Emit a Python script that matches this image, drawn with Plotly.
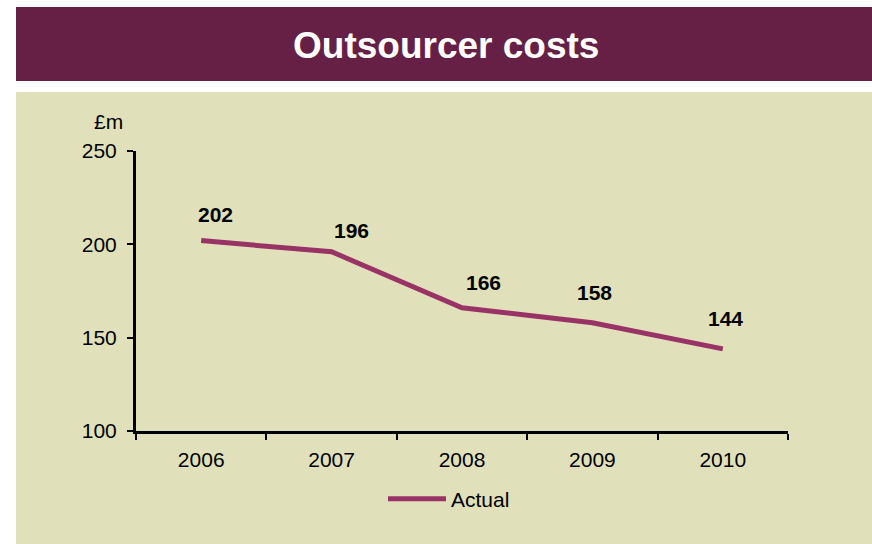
import plotly.graph_objects as go

# Outsourcer costs, £m
years = ["2006", "2007", "2008", "2009", "2010"]
actual = [202, 196, 166, 158, 144]
series_name = "Actual"
y_ticks = [100, 150, 200, 250]

# Pixel nudges for the value labels (dx, dy) relative to each point
label_offsets = [(14, 26), (20, 21), (21, 25), (2, 30), (3, 30)]

W, H = 872, 544
FONT = "Liberation Sans, Arial, sans-serif"
PLUM = "#993366"
BAND = "#662046"
PANEL = "#E0E1BA"
FS = 21

fig = go.Figure()
fig.add_trace(go.Scatter(
    x=years, y=actual, mode="lines", name=series_name,
    line=dict(color=PLUM, width=5),
    hoverinfo="x+y",
))

# value labels above each point (category axes take the category index)
for i, (v, (dx, dy)) in enumerate(zip(actual, label_offsets)):
    fig.add_annotation(
        x=i, y=v, xref="x", yref="y", text=f"<b>{v}</b>", showarrow=False,
        xanchor="center", yanchor="middle",
        xshift=dx, yshift=dy,
        font=dict(family=FONT, size=FS, color="#000000"),
    )

# unit label over the value axis
fig.add_annotation(
    xref="paper", yref="paper", x=108 / W, y=1 - 121 / H,
    xanchor="center", yanchor="middle",
    text="£m", showarrow=False,
    font=dict(family=FONT, size=FS, color="#000000"),
)

# title text inside the banner
fig.add_annotation(
    xref="paper", yref="paper", x=446 / W, y=1 - 45 / H,
    xanchor="center", yanchor="middle",
    text="<b>Outsourcer costs</b>", showarrow=False,
    font=dict(family=FONT, size=37, color="#FFFFFF"),
)

# banner and background panel
fig.add_shape(type="rect", xref="paper", yref="paper",
              x0=16 / W, x1=1, y0=1 - 81 / H, y1=1 - 7 / H,
              fillcolor=BAND, line=dict(width=0), layer="below")
fig.add_shape(type="rect", xref="paper", yref="paper",
              x0=16 / W, x1=1, y0=0, y1=1 - 92 / H,
              fillcolor=PANEL, line=dict(width=0), layer="below")

fig.update_layout(
    template="none",
    width=W, height=H, autosize=False,
    margin=dict(l=0, r=0, t=0, b=0, pad=0),
    paper_bgcolor="#FFFFFF",
    plot_bgcolor="rgba(0,0,0,0)",
    font=dict(family=FONT, size=FS, color="#000000"),
    showlegend=True,
    legend=dict(
        orientation="h", x=383 / W, y=1 - 499 / H,
        xanchor="left", yanchor="middle",
        itemwidth=58,
        bgcolor="rgba(0,0,0,0)",
        font=dict(family=FONT, size=FS, color="#000000"),
    ),
    xaxis=dict(
        type="category",
        domain=[136 / W, 788 / W],
        range=[-0.5, 4.5],
        automargin=False,
        showline=True, linecolor="#000000", linewidth=3,
        ticks="outside", tickson="boundaries", ticklen=6,
        tickwidth=2, tickcolor="#000000",
        showgrid=False, zeroline=False,
        ticklabelstandoff=8,
        tickfont=dict(family=FONT, size=FS, color="#000000"),
    ),
    yaxis=dict(
        domain=[113 / H, 393 / H],
        range=[100, 250],
        tickvals=y_ticks,
        automargin=False,
        showline=True, linecolor="#000000", linewidth=3,
        ticks="outside", ticklen=6, tickwidth=2, tickcolor="#000000",
        showgrid=False, zeroline=False,
        ticklabelstandoff=6,
        tickfont=dict(family=FONT, size=FS, color="#000000"),
    ),
)

fig.write_html("out.html")
